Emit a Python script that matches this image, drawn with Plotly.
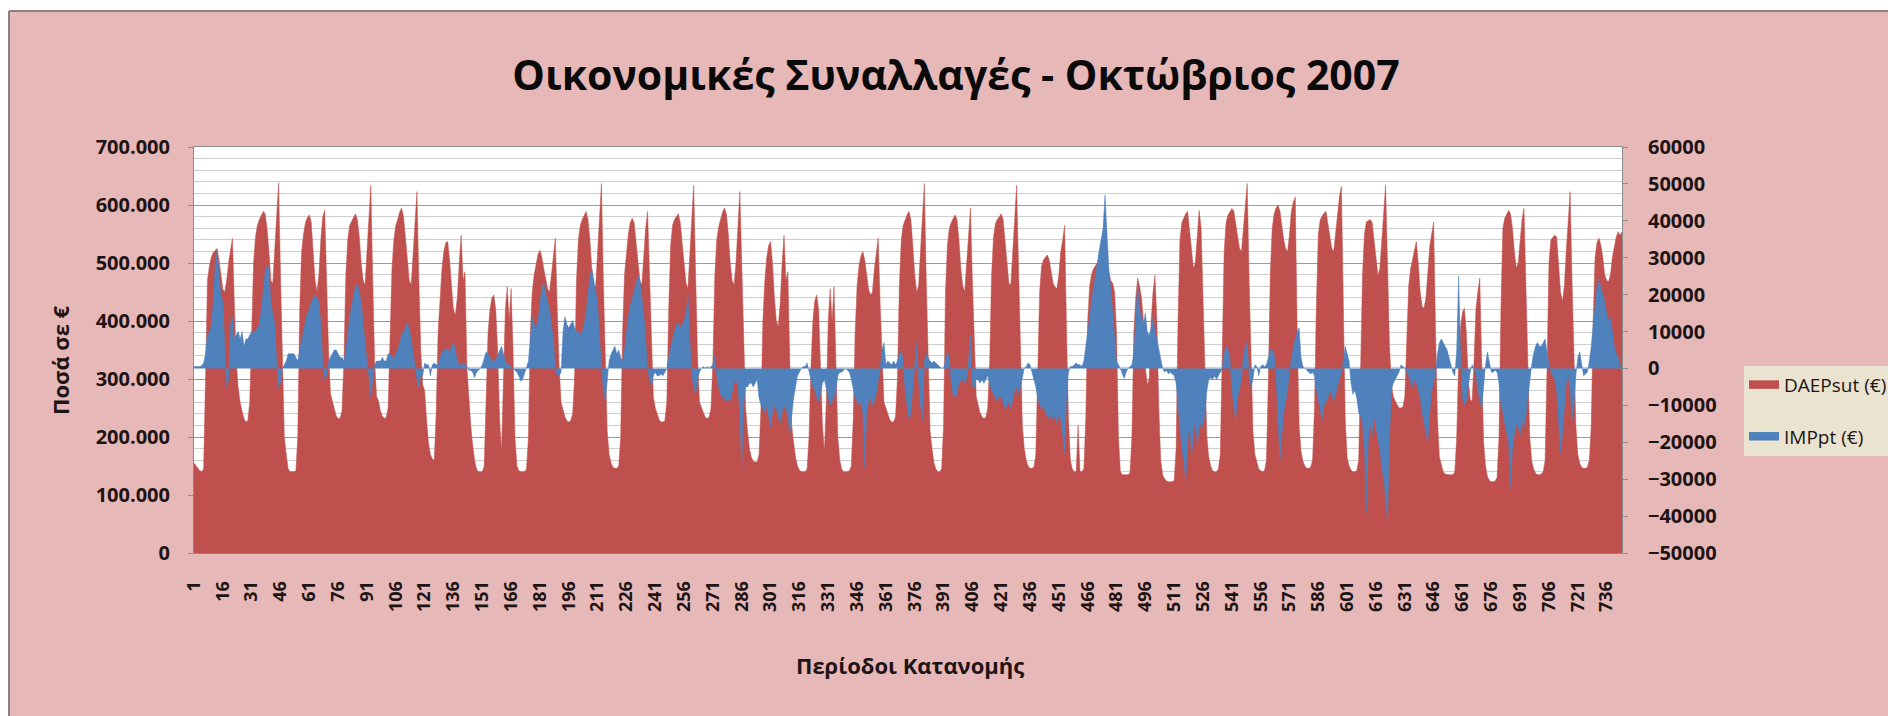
import plotly.graph_objects as go

# Hourly dispatch periods for October 2007 (31 days x 24 hours)
periods = list(range(1, 745))
tick_vals = list(range(1, 745, 15))
tick_text = [str(v) for v in tick_vals]

# DAEPsut per dispatch period, thousand euro (one row per day)
daepsut_k = [
    155, 150, 145, 142, 140, 145, 300, 470, 495, 510, 518, 522, 525, 505, 480, 455, 450, 470, 500, 525, 543, 430, 330, 285,
    260, 245, 232, 226, 228, 260, 400, 500, 545, 565, 575, 583, 589, 585, 560, 520, 470, 465, 520, 590, 638, 480, 320, 200,
    170, 145, 140, 140, 140, 142, 200, 420, 520, 550, 570, 578, 583, 570, 520, 470, 450, 480, 540, 580, 591, 450, 350, 275,
    260, 245, 236, 232, 232, 245, 330, 480, 540, 565, 572, 580, 585, 575, 545, 500, 470, 462, 520, 580, 634, 470, 330, 270,
    262, 245, 236, 232, 234, 250, 380, 490, 540, 565, 575, 588, 595, 580, 545, 500, 470, 462, 510, 570, 623, 470, 350, 290,
    280, 230, 190, 170, 162, 160, 240, 380, 440, 490, 520, 535, 537, 505, 460, 420, 410, 440, 500, 548, 470, 485, 320, 260,
    220, 185, 160, 145, 140, 140, 140, 150, 250, 380, 420, 440, 445, 420, 350, 230, 175, 300, 420, 459, 400, 456, 350, 200,
    150, 142, 140, 140, 140, 145, 200, 380, 450, 480, 500, 515, 522, 510, 490, 470, 455, 450, 480, 520, 543, 420, 320, 260,
    245, 235, 228, 226, 228, 240, 300, 470, 540, 565, 575, 583, 589, 575, 540, 490, 460, 460, 520, 590, 637, 470, 320, 210,
    170, 155, 148, 146, 146, 150, 200, 380, 480, 520, 550, 570, 577, 570, 540, 500, 470, 462, 510, 560, 589, 470, 350, 270,
    250, 238, 230, 226, 226, 228, 260, 420, 530, 565, 575, 580, 585, 570, 530, 490, 465, 456, 510, 580, 634, 480, 340, 260,
    250, 240, 234, 232, 234, 250, 330, 480, 540, 562, 575, 588, 595, 585, 550, 500, 470, 462, 500, 560, 623, 500, 350, 250,
    210, 180, 165, 158, 157, 157, 170, 250, 400, 470, 510, 530, 537, 500, 440, 400, 390, 430, 500, 548, 470, 485, 330, 220,
    190, 165, 150, 143, 140, 140, 140, 145, 200, 320, 400, 435, 445, 420, 330, 220, 175, 260, 400, 456, 400, 459, 330, 200,
    160, 145, 140, 140, 140, 142, 150, 230, 380, 460, 495, 512, 520, 505, 480, 455, 445, 450, 490, 520, 543, 430, 330, 260,
    250, 238, 230, 226, 226, 235, 300, 460, 540, 565, 575, 583, 589, 575, 530, 480, 450, 460, 520, 590, 637, 470, 320, 210,
    180, 155, 145, 140, 140, 145, 220, 450, 530, 560, 570, 578, 583, 575, 540, 490, 460, 450, 500, 560, 595, 470, 350, 270,
    255, 242, 235, 232, 234, 250, 330, 480, 545, 568, 575, 580, 585, 575, 540, 495, 465, 462, 510, 575, 634, 480, 330, 220,
    180, 160, 150, 146, 146, 148, 170, 300, 450, 495, 505, 510, 514, 505, 485, 465, 458, 456, 480, 520, 540, 565, 380, 230,
    160, 145, 140, 140, 220, 140, 140, 145, 230, 400, 460, 480, 490, 495, 500, 495, 490, 490, 500, 495, 480, 470, 465, 450,
    380, 200, 140, 135, 135, 135, 135, 138, 200, 380, 440, 474, 460, 440, 400, 320, 290, 300, 400, 450, 479, 400, 250, 160,
    135, 128, 124, 123, 123, 123, 125, 180, 400, 540, 570, 578, 585, 589, 560, 520, 491, 500, 550, 591, 560, 430, 300, 200,
    165, 150, 142, 140, 140, 145, 170, 380, 520, 570, 583, 588, 594, 590, 570, 545, 525, 520, 560, 600, 637, 470, 320, 210,
    170, 155, 145, 142, 140, 142, 160, 300, 480, 560, 585, 595, 600, 590, 565, 540, 525, 520, 550, 590, 605, 614, 380, 220,
    175, 158, 150, 146, 146, 148, 160, 250, 430, 550, 575, 582, 586, 589, 570, 545, 525, 520, 550, 590, 615, 632, 400, 230,
    165, 150, 143, 140, 140, 142, 160, 300, 480, 550, 571, 573, 575, 570, 540, 500, 479, 490, 540, 600, 634, 500, 360, 290,
    270, 262, 255, 250, 250, 252, 270, 380, 460, 490, 505, 525, 537, 500, 450, 425, 422, 440, 480, 530, 550, 571, 380, 230,
    165, 150, 140, 136, 135, 135, 135, 135, 140, 200, 330, 390, 415, 422, 380, 300, 265, 261, 330, 420, 450, 474, 330, 190,
    150, 132, 125, 123, 123, 124, 130, 200, 420, 560, 577, 585, 591, 585, 560, 520, 491, 500, 540, 575, 594, 450, 320, 200,
    160, 145, 138, 135, 135, 136, 140, 160, 320, 500, 540, 545, 548, 545, 500, 450, 433, 460, 520, 580, 623, 470, 330, 220,
    170, 155, 148, 146, 146, 148, 160, 220, 400, 510, 535, 543, 531, 510, 480, 470, 468, 480, 510, 530, 545, 554, 548, 554,
]

# IMPpt per dispatch period, thousand euro (one row per day)
imppt_k = [
    0.5, 0.5, 0.3, 0.5, 0.8, 1.5, 4, 10, 9, 12, 18, 28, 32, 25, 20, 18, 8, -5, -3, 12, 14, 8, 9, 10,
    8, 10, 6, 8, 8, 9, 10, 10, 10, 11, 12, 16, 22, 26, 28, 27, 18, 15, 12, 2, -5, -4, 0, 1,
    2, 4, 4, 4, 4, 3, 2, 5, 8, 10, 13, 15, 16, 18, 19, 20, 19, 18, 12, 2, -3, -2, 2, 3,
    4, 5, 5, 4, 3, 3, 2, 5, 10, 14, 17, 20, 22, 23, 21, 18, 12, 6, 2, -2, -8, -3, 1, 2,
    2, 2, 3, 2, 2, 4, 4, 3, 3, 4, 5, 7, 9, 10, 11, 12.5, 11, 8, 4, 0, -3, -5, -2, -2,
    1.5, 1, 1, -2, 1, 1.5, 1, 1, 3, 4.5, 5, 5.5, 5, 4.5, 6, 7, 5, 2, 1, 1, 1.5, 1, 0.5, -0.5,
    -0.5, -1, -2.5, -1, -0.5, 0, 1, 3, 4.5, 4, 3, 2, 2, 2.5, 3.5, 5, 6, 4, 2, 1, 1, 0.5, 0, -0.5,
    -1, -2, -3.5, -3, -1.5, 0, 2, 8, 14, 12, 11, 13, 18, 22, 23, 20, 18, 16, 12, 8, 0, -2, -2, -1,
    10, 14, 12, 11, 12, 13, 11, 10, 10, 9, 10, 12, 15, 20, 25, 27, 24, 20, 18, 8, 0, -6, -9, -3,
    2, 4, 5, 6, 4, 5, 3, 2, 5, 10, 14, 17, 19, 21, 23, 25, 24, 20, 15, 8, 0, -3, -5, -2,
    -1, -2, -2, -1.5, -2, -1, 0, 3, 6, 8, 10, 12, 12, 11, 12, 13, 15, 20, 8, -2, -5, -7, -3, -1,
    0, 0.5, 0, 0.5, 0, 0.5, 1, 3.5, -2, -5, -7, -8, -8, -9, -8, -9, -6, -4, -3, -5, -12, -27, -10, -5,
    -5, -4, -4, -5, -4, -3, -8, -10, -11, -12, -10, -13, -16, -12, -10, -11, -13, -15, -12, -10, -11, -13, -18, -12,
    -8, -5, -2, -1, 0, 0.5, 0.5, 1.5, -1, -3, -5, -6, -8, -9, -7, -4, -3, -6, -8, -10, -9, -8, -6, -2,
    -1, -1, -0.5, 0, -0.5, -1, -3, -6, -8, -9, -10, -9, -12, -27, -12, -9, -8, -10, -9, -7, -4, 0, 5, 7,
    1, 2, 1.5, 1, 2, 1, 2, 4, 5, 2, -6, -10, -14, -12, -6, 2, 7, -3, -10, -14, 2, 4, 3, 2,
    1.5, 2, 1.5, 1, 0.5, 0, 0, 2, 4.5, 3, -4, -7, -8, -7, -4, -3.5, -3, -4, -3, 2, 9, -5, -5, -3,
    -3, -4, -3, -4, -3, -2, -4, -6, -7, -8, -9, -7, -8, -9, -11, -10, -9, -11, -8, -6, -5, -7, -5, -2,
    0, 0.5, 1.5, 1, -1, -3, -5, -8, -10, -11, -10, -12, -13, -14, -12, -14, -13, -15, -12, -14, -18, -23, -8, -1,
    0.5, 0.5, 1, 1.5, 1, 1, 0.5, 2, 6, 10, 15, 19, 22, 25, 29, 32, 35, 38, 47, 35, 27, 22, 15, 8,
    2, 1, 0, -1.5, -2.7, -1, 0, 0.5, 1, 4, 12, 23, 16, 14, 12, 15, 10, 9, 11, 14, 10, 8, 5, 2,
    0, -1, -0.5, -1.5, -1, -1.5, -2, -4, -10, -18, -22, -25, -31, -20, -15, -24, -18, -13, -21, -16, -15, -16, -12, -6,
    -3, -2.5, -3, -2, -3, -2, -1, 0, 4, 6, 5, 3, -6, -10, -14, -8, -5, -3, 3, 6, 7, -2, -5, -3,
    1, 0.5, -2, 0.5, 1, 0.5, 1, 3, 5, 5, 4, -2, -12, -25, -18, -12, -9, -6, -1, 3, 6, 8, 10, 11,
    3, 0.5, 0, -0.5, -1, -1.5, -1, -2, -6, -9, -12, -14, -10, -9, -8, -6, -7, -9, -7, -5, -3, -1, 2, 6,
    4, 2, -4, -7, -6, -8, -12, -13, -15, -22, -39, -20, -15, -18, -13, -16, -18, -22, -27, -30, -35, -42, -20, -6,
    -4, -3, -2, -1, 1, 0.5, 0, -1, -2, -4, -5, -3, -4, -6, -8, -12, -15, -18, -20, -12, -6, -4, -1, 4,
    7, 8, 7, 6, 5, 3, 1, -1, -2, 5, 25, 4, -8, -10, -9, -5, -1, 1, 0, -2, -6, -9, -11, -5,
    1, 4.5, 2, -1, -1, -0.5, -1, -4, -10, -12, -15, -18, -20, -32, -22, -18, -15, -16, -18, -14, -16, -13, -8, -3,
    1, 4, 6, 7, 6, 6, 7, 8, 4, 1, -1, -2, -3, -6, -15, -23, -18, -10, -4, -2, -6, -14, -10, -2,
    3, 4.5, 1, -2, -1.5, -1, 2, 6, 12, 18, 22, 24, 22, 20, 18, 15, 13, 14, 10, 6, 4, 3, 1, -1,
]

daepsut = [v * 1000 for v in daepsut_k]
imppt = [v * 1000 for v in imppt_k]

RED = "#C0504D"
BLUE = "#4F81BD"
PINK = "#E6B8B7"
TEXT = "#1E1414"
FONT = "Open Sans"

fig = go.Figure()
fig.add_trace(go.Scatter(
    x=periods, y=daepsut, name="DAEPsut (€)", mode="lines",
    fill="tozeroy", fillcolor=RED, line=dict(color=RED, width=0.5),
    legendgroup="a", hoverinfo="skip",
))
fig.add_trace(go.Scatter(
    x=periods, y=imppt, name="IMPpt (€)", mode="lines", yaxis="y2",
    fill="tozeroy", fillcolor=BLUE, line=dict(color=BLUE, width=0.5),
    legendgroup="b", hoverinfo="skip",
))

W, H = 1888, 716
L, R, T, B = 194, 266, 147, 163
pw, ph = W - L - R, H - T - B


def px(x):
    return (x - L) / pw


def py(y):
    return (H - B - y) / ph


fig.update_layout(
    width=W, height=H,
    margin=dict(l=L, r=R, t=T, b=B, autoexpand=False),
    paper_bgcolor=PINK, plot_bgcolor="white",
    separators=",.",
    showlegend=True,
    font=dict(family=FONT, color=TEXT),
    title=dict(
        text="Οικονομικές Συναλλαγές - Οκτώβριος 2007",
        x=956 / W, y=1 - 76 / H, xanchor="center", yanchor="middle",
        font=dict(family=FONT, size=41, color="#0A0A0A", weight="bold"),
    ),
    xaxis=dict(
        range=[1, 744], tickmode="array", tickvals=tick_vals, ticktext=tick_text,
        tickangle=-90, tickfont=dict(size=18, color=TEXT, weight="bold"),
        showgrid=False, zeroline=False, ticks="", ticklabelstandoff=20,
        showline=True, linecolor="#8C8C8C", linewidth=1, mirror=True,
        automargin=False,
    ),
    yaxis=dict(
        range=[0, 700000], dtick=100000, tickformat=",d",
        tickfont=dict(size=20, color=TEXT, weight="bold"),
        showgrid=True, gridcolor="#9C9C9C", gridwidth=1.2, zeroline=False,
        minor=dict(dtick=20000, showgrid=True, gridcolor="#CFCFCF", gridwidth=1.2),
        ticks="outside", ticklen=5, tickcolor="#8C8C8C", ticklabelstandoff=14,
        showline=True, linecolor="#8C8C8C", linewidth=1, mirror=True,
        automargin=False,
    ),
    yaxis2=dict(
        range=[-50000, 60000], dtick=10000, tickformat="d", overlaying="y",
        side="right", showgrid=False, zeroline=False,
        tickfont=dict(size=20, color=TEXT, weight="bold"),
        ticks="outside", ticklen=5, tickcolor="#8C8C8C", ticklabelstandoff=16,
        automargin=False,
    ),
    legend=dict(
        x=px(1744), y=py(366), xanchor="left", yanchor="top",
        bgcolor="#E9E3D0", font=dict(size=19, color=TEXT),
        tracegroupgap=24, itemsizing="constant",
    ),
    annotations=[
        dict(text="Περίοδοι Κατανομής", xref="paper", yref="paper",
             x=px(910), y=py(665), xanchor="center", yanchor="middle",
             showarrow=False, font=dict(size=22, color=TEXT, weight="bold")),
        dict(text="Ποσά σε €", xref="paper", yref="paper", textangle=-90,
             x=px(60), y=py(360), xanchor="center", yanchor="middle",
             showarrow=False, font=dict(size=22, color=TEXT, weight="bold")),
    ],
    shapes=[
        # white strips outside the chart frame
        dict(type="rect", xref="paper", yref="paper", x0=px(0), x1=px(W),
             y0=py(11), y1=py(0), fillcolor="white", line=dict(width=0), layer="below"),
        dict(type="rect", xref="paper", yref="paper", x0=px(0), x1=px(9),
             y0=py(H), y1=py(0), fillcolor="white", line=dict(width=0), layer="below"),
        # chart frame edges
        dict(type="line", xref="paper", yref="paper", x0=px(9), x1=px(W),
             y0=py(11), y1=py(11), line=dict(color="#8A8080", width=2), layer="below"),
        dict(type="line", xref="paper", yref="paper", x0=px(9), x1=px(9),
             y0=py(11), y1=py(H), line=dict(color="#8A8080", width=2), layer="below"),
    ],
    hovermode=False,
)

fig.write_html("out.html")
